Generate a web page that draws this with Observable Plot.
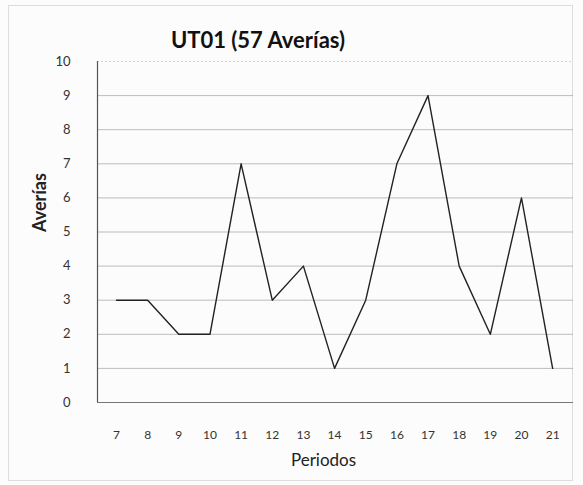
<!DOCTYPE html>
<html>
<head>
<meta charset="utf-8">
<script src="https://cdn.jsdelivr.net/npm/d3@7"></script>
<script src="https://cdn.jsdelivr.net/npm/@observablehq/plot@0.6"></script>
<style>
  html, body { margin: 0; padding: 0; background: #fff; }
  #wrap { position: relative; width: 583px; height: 485px; box-sizing: border-box; background: #fcfcfc; }
  #frame { position: absolute; left: 8px; top: 5px; width: 565px; height: 476px; border: 1px solid #ddd; box-sizing: border-box; }
  #title { position: absolute; left: 0; top: 26px; width: 516px; text-align: center; font-family: Lato, "Open Sans", sans-serif; font-weight: bold; font-size: 22px; color: #111; }
  #chart { position: absolute; left: 0; top: 50px; }
</style>
</head>
<body>
<div id="wrap">
  <div id="frame"></div>
  <div id="title">UT01 (57 Averías)</div>
  <div id="chart"></div>
</div>
<script>
const periodos = [7, 8, 9, 10, 11, 12, 13, 14, 15, 16, 17, 18, 19, 20, 21];
const averias  = [3, 3, 2, 2, 7, 3, 4, 1, 3, 7, 9, 4, 2, 6, 1];
const yTicks = [0, 1, 2, 3, 4, 5, 6, 7, 8, 9, 10];
const titleText = "UT01 (57 Averías)";
const xLabel = "Periodos";
const yLabel = "Averías";

const data = periodos.map((p, i) => ({periodo: p, averias: averias[i]}));

const chart = Plot.plot({
  width: 583,
  height: 435,
  marginTop: 11,
  marginBottom: 83,
  marginLeft: 97,
  marginRight: 10,
  style: { fontFamily: "Lato, 'Open Sans', sans-serif", background: "transparent" },
  x: { domain: [6.39, 21.67], ticks: periodos, tickFormat: d => String(d) },
  y: { domain: [0, 10], ticks: yTicks },
  marks: [
    Plot.gridY(yTicks.filter(d => d > 0 && d < 10), { stroke: "#888", strokeOpacity: 0.55 }),
    Plot.gridY([10], { stroke: "#888", strokeOpacity: 0.35, strokeDasharray: "2,2" }),
    Plot.ruleX([6.39], { stroke: "#555", strokeWidth: 1.2 }),
    Plot.ruleY([0], { stroke: "#777", strokeWidth: 1.2 }),
    Plot.axisY(yTicks, { tickSize: 0, tickPadding: 27, fontSize: 13, fill: "#333", label: null }),
    Plot.axisX(periodos, { tickSize: 0, tickPadding: 28, fontSize: 12, fill: "#333", label: null }),
    Plot.text([yLabel], { frameAnchor: "left", dx: -57, rotate: -90, fontSize: 18, fontWeight: "bold", fill: "#222" }),
    Plot.text([xLabel], { frameAnchor: "bottom", dx: -12, dy: 63, fontSize: 17, fill: "#222" }),
    Plot.line(data, { x: "periodo", y: "averias", stroke: "#222", strokeWidth: 1.4 })
  ]
});
document.getElementById("chart").appendChild(chart);
</script>
</body>
</html>
